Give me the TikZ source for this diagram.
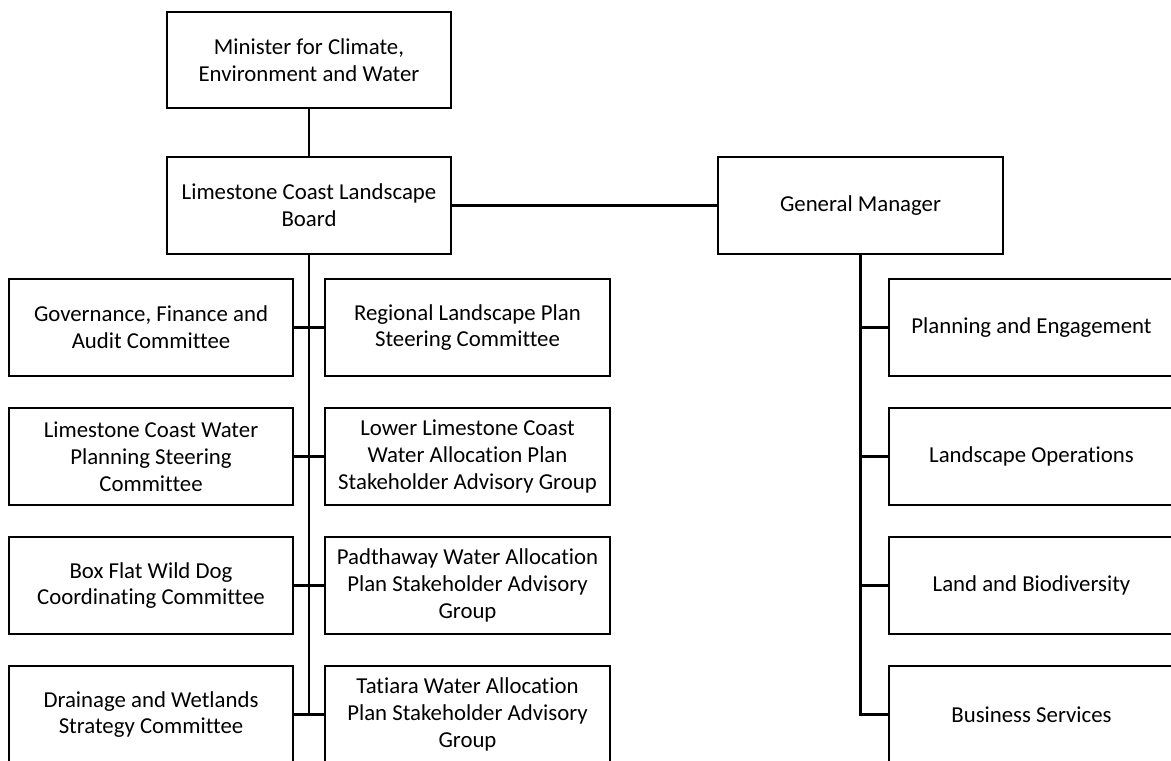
\documentclass[tikz,border=0pt]{standalone}
\usepackage{fontspec}
\setmainfont{Carlito}[Ligatures=NoCommon]
\tikzset{
  orgbox/.style={draw, line width=1.3pt, inner sep=0pt, align=center,
    minimum width=142.5pt, minimum height=48.5pt,
    font=\fontsize{11.4pt}{13.4pt}\selectfont},
  orgline/.style={line width=1.1pt}
}
\begin{document}
\begin{tikzpicture}[x=0.5pt, y=-0.5pt]
                \useasboundingbox (0,0) rectangle (1171,760);
                \clip (0,0) rectangle (1171,760);
                
                % Drawing box minister and board
                \node [orgbox, minimum width=142pt, minimum height=48pt] (minister) at (309.000000,60.000000) {Minister for Climate,\\Environment and Water};
                \node [orgbox, minimum width=142pt] (board) at (309.000000,205.500000) {Limestone Coast Landscape\\Board};
                
                % Drawing box general manager
                \node [orgbox] (gm) at (860.500000,205.500000) {General Manager};
                
                % Drawing committee boxes, left column
                \node [orgbox, minimum width=142pt] (gov) at (151.000000,327.500000) {Governance, Finance and\\Audit Committee};
                \node [orgbox, minimum width=142pt] (lcwater) at (151.000000,456.500000) {Limestone Coast Water\\Planning Steering\\Committee};
                \node [orgbox, minimum width=142pt] (wilddog) at (151.000000,585.500000) {Box Flat Wild Dog\\Coordinating Committee};
                \node [orgbox, minimum width=142pt] (drainage) at (151.000000,714.500000) {Drainage and Wetlands\\Strategy Committee};
                
                % Drawing committee boxes, right column
                \node [orgbox] (rlplan) at (467.500000,327.500000) {Regional Landscape Plan\\Steering Committee};
                \node [orgbox] (lowerlc) at (467.500000,456.500000) {Lower Limestone Coast\\Water Allocation Plan\\Stakeholder Advisory Group};
                \node [orgbox] (padthaway) at (467.500000,585.500000) {Padthaway Water Allocation\\Plan Stakeholder Advisory\\Group};
                \node [orgbox] (tatiara) at (467.500000,714.500000) {Tatiara Water Allocation\\Plan Stakeholder Advisory\\Group};
                
                % Drawing branch boxes under general manager
                \node [orgbox] (planning) at (1031.500000,327.500000) {Planning and Engagement};
                \node [orgbox] (operations) at (1031.500000,456.500000) {Landscape Operations};
                \node [orgbox] (biodiv) at (1031.500000,585.500000) {Land and Biodiversity};
                \node [orgbox] (business) at (1031.500000,714.500000) {Business Services};
                
                % Drawing segment minister board
                \draw [orgline] (minister.south) -- (board.north);%
                
                % Drawing segment board gm
                \draw [orgline] (board.east) -- (gm.west);%
                
                % Drawing trunk under board
                \coordinate (trunkend) at (board.south |- drainage.east);
                \draw [orgline] (board.south) -- (trunkend);%
                \draw [orgline] (gov.east) -- (rlplan.west);%
                \draw [orgline] (lcwater.east) -- (lowerlc.west);%
                \draw [orgline] (wilddog.east) -- (padthaway.west);%
                \draw [orgline] (drainage.east) -- (tatiara.west);%
                
                % Drawing trunk under general manager
                \draw [orgline] (gm.south) |- (business.west);%
                \draw [orgline] (gm.south |- planning.west) -- (planning.west);%
                \draw [orgline] (gm.south |- operations.west) -- (operations.west);%
                \draw [orgline] (gm.south |- biodiv.west) -- (biodiv.west);%
\end{tikzpicture}
\end{document}
